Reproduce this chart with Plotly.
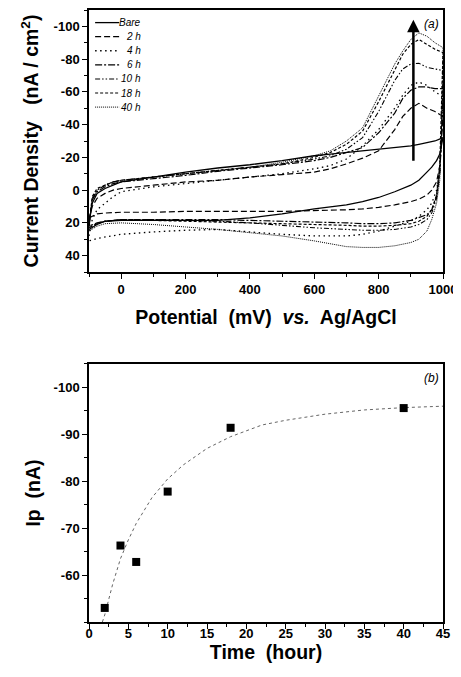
import plotly.graph_objects as go

# ---------------- data: panel (a) cyclic voltammograms ----------------
potential_fwd = [-100, -90, -75, -50, -25, 0, 100, 200, 300, 400, 500, 600, 650,
                 700, 750, 800, 850, 875, 900, 925, 950, 975, 1000]
potential_rev = [1000, 995, 990, 980, 965, 950, 925, 900, 850, 800, 750, 700,
                 600, 500, 400, 300, 200, 100, 0, -50, -75, -100]

series_names = ["Bare", "2 h", "4 h", "6 h", "10 h", "18 h", "40 h"]

bare_fwd = [20, 8, 2, -1, -3, -5, -8, -11, -13.5, -15.5, -18, -21, -22, -23, -24, -25, -26, -26.5, -27, -28, -29, -30, -32]
bare_rev = [-32, -26, -22, -18, -14, -11, -6, -3, 1, 4.5, 7, 9, 11.5, 14.5, 17, 18.5, 18.5, 18.5, 18.5, 19, 21, 24]

h2_fwd = [18, 10, 5, 2, 0, -1, -3, -5, -6, -8, -9.5, -11, -13, -16, -19.5, -24, -37, -45, -50, -53, -50, -48, -45]
h2_rev = [-45, -28, -15, -5, 0, 3, 5.5, 7, 9, 10.5, 11.5, 12, 12.5, 13, 13, 13, 13, 13.5, 13.5, 14, 14.5, 17]

h4_fwd = [28, 18, 12, 8, 4, 1, -2, -4, -6, -8, -10, -13, -15, -19, -27, -37, -50, -58, -64, -66, -64, -60, -57]
h4_rev = [-57, -30, -12, 0, 8, 12, 16, 19, 22, 25, 27, 28, 28, 27, 25.5, 24, 24.5, 25.5, 27, 28.5, 29.5, 31]

h6_fwd = [22, 6, 1, -2, -4, -5, -7, -9, -11.5, -13.5, -15.5, -18, -20, -23, -26, -35, -47, -56, -61, -63, -63, -62, -62]
h6_rev = [-62, -30, -10, 4, 12, 15, 17, 18.5, 20, 20.5, 20.5, 20, 19.5, 19, 18.5, 18, 18, 18, 18, 19, 20, 22]

h10_fwd = [22, 5, 0, -3, -5, -6, -8, -10, -12, -14, -16, -19, -21, -25, -32, -48, -67, -74, -77, -77.5, -75, -74, -73]
h10_rev = [-73, -35, -12, 5, 14, 18, 21, 22.5, 24, 24.5, 24.5, 24, 23, 21.5, 20, 19, 18.5, 18, 18, 19, 20.5, 23]

h18_fwd = [22, 4, -1, -3, -5, -6, -8, -10, -12, -14, -16, -20, -23, -28, -36, -54, -74, -83, -89, -92, -89, -86, -84]
h18_rev = [-84, -40, -15, 3, 12, 16, 19, 20.5, 21.5, 22, 22, 21.5, 21, 20.5, 20, 19.5, 19, 18.5, 18, 19, 20.5, 23]

h40_fwd = [24, 6, 0, -3, -5, -6, -8, -10, -12, -14, -17, -21, -24, -30, -38, -58, -77, -85, -92, -96, -94, -90, -87]
h40_rev = [-87, -40, -6, 8, 18, 25, 30, 32, 34, 35, 35, 34.5, 31, 28, 26, 24, 22.5, 21, 20, 20.5, 22, 25]

fwd_values = [bare_fwd, h2_fwd, h4_fwd, h6_fwd, h10_fwd, h18_fwd, h40_fwd]
rev_values = [bare_rev, h2_rev, h4_rev, h6_rev, h10_rev, h18_rev, h40_rev]

x_ticks_a = [0, 200, 400, 600, 800, 1000]
x_ticklabels_a = ["0", "200", "400", "600", "800", "1000"]
y_ticks_a = [-100, -80, -60, -40, -20, 0, 20, 40]
y_ticklabels_a = ["-100", "-80", "-60", "-40", "-20", "0", "20", "40"]

# ---------------- data: panel (b) peak current vs time ----------------
time_h = [2, 4, 6, 10, 18, 40]
ip_nA = [-53, -66.3, -62.8, -77.8, -91.4, -95.6]
fit_time = [1.7, 2, 3, 4, 5, 6, 8, 10, 12, 15, 18, 20, 22, 25, 28, 30, 35, 40, 45]
fit_ip = [-50, -51.5, -58, -63.5, -67.5, -71, -76.5, -80.5, -83.5, -87, -89.5, -90.8, -92,
          -93, -93.8, -94.3, -95.2, -95.7, -96]

x_ticks_b = [0, 5, 10, 15, 20, 25, 30, 35, 40, 45]
x_ticklabels_b = ["0", "5", "10", "15", "20", "25", "30", "35", "40", "45"]
y_ticks_b = [-100, -90, -80, -70, -60]
y_ticklabels_b = ["-100", "-90", "-80", "-70", "-60"]

# ---------------- styles ----------------
FONT = "Liberation Sans, Arial, Helvetica, sans-serif"
dashes = ["solid", "6px,3px", "1.5px,3.5px", "7px,2px,2px,2px",
          "5px,2px,1.5px,2px,1.5px,2px", "3px,2px", "1px,1px"]
widths = [1.3, 1.2, 1.3, 1.2, 1.1, 1.2, 1.0]

fig = go.Figure()

for name, fv, rv, dash, w in zip(series_names, fwd_values, rev_values, dashes, widths):
    fig.add_trace(go.Scatter(
        x=potential_fwd + potential_rev, y=fv + rv, mode="lines", name=name,
        line=dict(color="black", width=w, dash=dash), showlegend=False,
        xaxis="x", yaxis="y"))

fig.add_trace(go.Scatter(
    x=fit_time, y=fit_ip, mode="lines", line=dict(color="#666666", width=1.0, dash="dot"),
    showlegend=False, xaxis="x2", yaxis="y2"))
fig.add_trace(go.Scatter(
    x=time_h, y=ip_nA, mode="markers",
    marker=dict(symbol="square", size=8, color="black"),
    showlegend=False, xaxis="x2", yaxis="y2"))

tickfont = dict(family=FONT, size=13, color="black", weight="bold")
titlefont = dict(family=FONT, size=19.5, color="black", weight="bold")
common = dict(showline=True, linecolor="black", linewidth=1.5, mirror=True,
              ticks="outside", ticklen=5, tickwidth=1.2, tickcolor="black",
              showgrid=False, zeroline=False, tickfont=tickfont, automargin=False)

top_dom = [0.5719, 1.0]
bot_dom = [0.0, 0.4216]

# the page body adds an 8px offset, so the figure is sized to fill the rest of the window
fig.update_layout(
    width=453, height=669, template="none",
    paper_bgcolor="white", plot_bgcolor="white",
    margin=dict(l=81, r=18, t=2, b=55),
    showlegend=False,
    xaxis=dict(domain=[0, 1], anchor="y", range=[-100, 1000],
               tickmode="array", tickvals=x_ticks_a, ticktext=x_ticklabels_a,
               minor=dict(tickmode="linear", tick0=0, dtick=100, ticks="outside", ticklen=3, tickcolor="black"),
               title=dict(text="Potential\u00a0 (mV)\u00a0 <i>vs.</i>\u00a0 Ag/AgCl", font=titlefont, standoff=14),
               **common),
    yaxis=dict(domain=top_dom, anchor="x", range=[50, -110],
               tickmode="array", tickvals=y_ticks_a, ticktext=y_ticklabels_a,
               minor=dict(tickmode="linear", tick0=0, dtick=10, ticks="outside", ticklen=3, tickcolor="black"),
               title=dict(text="Current Density\u00a0\u00a0 (nA / cm<sup>2</sup>)", font=titlefont, standoff=10),
               **common),
    xaxis2=dict(domain=[0, 1], anchor="y2", range=[0, 45],
                tickmode="array", tickvals=x_ticks_b, ticktext=x_ticklabels_b,
                minor=dict(tickmode="linear", tick0=0, dtick=2.5, ticks="outside", ticklen=3, tickcolor="black"),
                title=dict(text="Time\u00a0 (hour)", font=titlefont, standoff=1),
                ticklabelstandoff=-6,
                **common),
    yaxis2=dict(domain=bot_dom, anchor="x2", range=[-50, -105],
                tickmode="array", tickvals=y_ticks_b, ticktext=y_ticklabels_b,
                minor=dict(tickmode="linear", tick0=0, dtick=5, ticks="outside", ticklen=3, tickcolor="black"),
                title=dict(text="Ip\u00a0 (nA)", font=titlefont, standoff=8),
                **common),
)

# arrow showing increasing peak current
fig.add_annotation(x=908, y=-104, ax=908, ay=-17, xref="x", yref="y", axref="x", ayref="y",
                   text="", showarrow=True, arrowhead=2, arrowsize=1, arrowwidth=2.5,
                   arrowcolor="black")

# panel labels (placed in each panel's data units)
fig.add_annotation(x=963, y=-101.5, xref="x", yref="y", text="<i>(a)</i>",
                   showarrow=False, font=dict(family=FONT, size=12, color="black"))
fig.add_annotation(x=43.5, y=-102.1, xref="x2", yref="y2", text="<i>(b)</i>",
                   showarrow=False, font=dict(family=FONT, size=12, color="black"))

# compact legend for panel (a), placed in the panel's own data units
leg_x0, leg_x1, leg_txt = -81, -6, 68
leg_top, leg_step = -102.3, 8.6
for i, (name, dash, w) in enumerate(zip(series_names, dashes, widths)):
    yy = leg_top + i * leg_step
    fig.add_shape(type="line", xref="x", yref="y",
                  x0=leg_x0, x1=leg_x1, y0=yy, y1=yy,
                  line=dict(color="black", width=w, dash=dash))
    fig.add_annotation(x=leg_txt, y=yy, xref="x", yref="y",
                       text="<i>" + name + "</i>", showarrow=False, xanchor="right",
                       yanchor="middle", font=dict(family=FONT, size=10, color="black"))

fig.write_html("out.html")
